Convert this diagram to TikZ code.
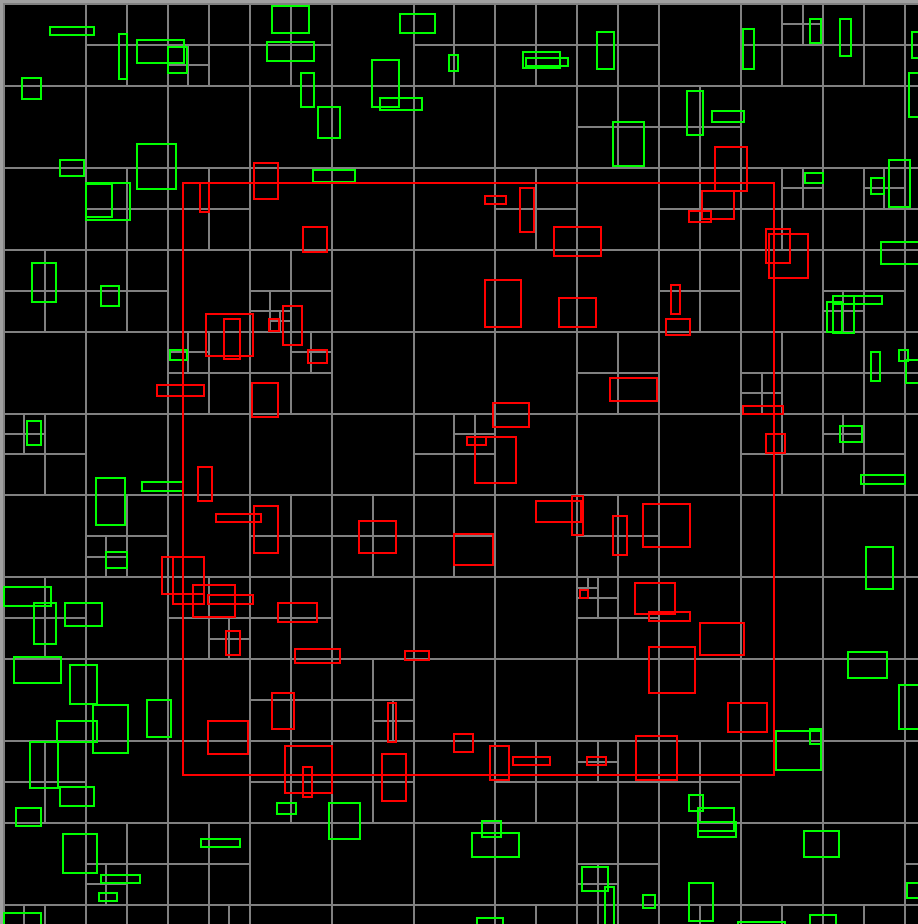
\documentclass[tikz,border=0pt]{standalone}
\usepackage{tikz}
\usetikzlibrary{calc}

\definecolor{gridgray}{RGB}{128,128,128}
\definecolor{edgegray}{RGB}{160,160,160}
\definecolor{hitred}{RGB}{255,0,0}
\definecolor{missgreen}{RGB}{0,255,0}

\begin{document}
\begin{tikzpicture}[x=1pt, y=-1pt,
    gridline/.style={draw=gridgray, line width=2pt},
    missbox/.style={draw=missgreen, line width=2.2pt},
    hitbox/.style={draw=hitred, line width=2.2pt}]

        % Canvas
        \useasboundingbox (0,0) rectangle (918,924);
        \clip (0,0) rectangle (918,924);
        \fill[edgegray] (0,0) rectangle (918,924);
        \fill[black] (3,3) rectangle (918,924);

        % Eighth of a quadtree cell
        \def\g{10.2375}

        % Cells of the coarse level
        \foreach \k in {0,...,11} {
          \draw[gridline] ({4+\k*8*\g},3) -- ({4+\k*8*\g},924);
          \draw[gridline] (3,{4+\k*8*\g}) -- (918,{4+\k*8*\g});
        }

        % Split cells: centre and half size, in eighths
        \foreach \u/\v/\h in {12/4/4, 20/4/4, 18/6/2, 28/4/4, 44/4/4, 52/4/4, 60/4/4,
            76/4/4, 78/2/2, 84/4/4, 92/4/4,
            60/12/4, 68/12/4,
            12/20/4, 20/20/4, 52/20/4, 68/20/4, 76/20/4, 78/18/2, 84/20/4, 86/18/2, 92/20/4,
            4/28/4, 12/28/4, 28/28/4, 26/30/2, 27/31/1, 68/28/4, 84/28/4, 82/30/2,
            20/36/4, 18/34/2, 28/36/4, 30/34/2, 60/36/4, 76/36/4, 74/38/2, 84/36/4, 92/36/4,
            4/44/4, 2/42/2, 44/44/4, 46/42/2, 76/44/4, 84/44/4, 82/42/2,
            12/52/4, 10/54/2, 28/52/4, 36/52/4, 44/52/4, 60/52/4,
            4/60/4, 20/60/4, 22/62/2, 28/60/4, 60/60/4, 58/58/2, 57/57/1,
            28/68/4, 36/68/4, 38/70/2,
            4/76/4, 28/76/4, 36/76/4, 52/76/4, 60/76/4, 58/74/2, 68/76/4,
            12/84/4, 10/86/2, 20/84/4, 60/84/4, 58/86/2, 92/84/4,
            4/92/4, 2/90/2, 12/92/4, 20/92/4, 22/90/2, 52/92/4, 60/92/4, 58/90/2,
            68/92/4, 76/92/4, 84/92/4} {
          \draw[gridline] ({4+\u*\g},{4+(\v-\h)*\g}) -- ({4+\u*\g},{4+(\v+\h)*\g});
          \draw[gridline] ({4+(\u-\h)*\g},{4+\v*\g}) -- ({4+(\u+\h)*\g},{4+\v*\g});
        }

        % Boxes outside the query
        \foreach \xa/\ya/\xb/\yb in {50/27/94/35, 119/34/127/79, 137/40/184/63, 168/47/187/73,
            272/6/309/33, 267/42/314/61, 301/73/314/107, 22/78/41/99, 60/160/84/176,
            137/144/176/189, 86/183/130/220, 86/184/112/217, 32/263/56/302, 101/286/119/306,
            400/14/435/33, 372/60/399/107, 380/98/422/110, 318/107/340/138, 449/55/458/71,
            523/52/560/68, 526/58/568/66, 597/32/614/69, 313/170/355/182, 613/122/644/166,
            743/29/754/69, 810/19/821/43, 840/19/851/56, 912/32/925/58, 909/73/925/117,
            687/91/703/135, 712/111/744/122, 805/173/823/183, 871/178/884/194, 889/160/910/207,
            881/242/925/264, 833/296/882/304, 827/302/842/332, 833/296/854/333,
            170/350/187/360, 27/421/41/445, 96/478/125/525, 142/482/183/491, 106/552/127/568,
            4/587/51/606, 34/603/56/644, 65/603/102/626,
            871/352/880/381, 899/350/908/361, 906/360/925/383, 840/426/862/442,
            861/475/905/484, 866/547/893/589,
            14/657/61/683, 70/665/97/704, 93/705/128/753, 57/721/97/742, 30/742/58/788,
            60/787/94/806, 16/808/41/826, 63/834/97/873, 101/875/140/883, 99/893/117/901,
            4/913/41/930, 147/700/171/737, 201/839/240/847, 277/803/296/814,
            329/803/360/839, 482/821/501/837, 472/833/519/857, 582/867/608/891,
            605/887/614/930, 477/918/503/930,
            848/652/887/678, 899/685/925/729, 776/731/821/770, 810/729/821/744,
            689/795/703/811, 698/808/734/831, 698/822/736/837, 804/831/839/857,
            907/883/925/898, 643/895/655/908, 689/883/713/921, 810/915/836/930,
            738/922/785/930}
          \draw[missbox] (\xa,\ya) rectangle (\xb,\yb);

        % Query window
        \draw[hitbox] (183,183) rectangle (774,775);

        % Boxes hit by the query
        \foreach \xa/\ya/\xb/\yb in {254/163/278/199, 200/183/209/212, 303/227/327/252,
            485/196/506/204, 520/188/534/232, 554/227/601/256, 485/280/521/327,
            559/298/596/327, 715/147/747/191, 702/191/734/219, 689/211/711/222,
            766/229/790/263, 769/234/808/278, 671/285/680/314,
            206/314/253/356, 224/319/240/359, 269/319/279/331, 283/306/302/345,
            157/385/204/396, 252/383/278/417, 198/467/212/501, 216/514/261/522,
            254/506/278/553, 162/557/204/594, 173/557/204/604, 193/585/235/617,
            208/595/253/604, 278/603/317/622,
            308/350/327/363, 493/403/529/427, 467/437/486/445, 475/437/516/483,
            536/501/581/522, 572/496/583/535, 359/521/396/553, 454/534/493/565,
            580/590/588/598, 610/378/657/401, 613/516/627/555, 666/319/690/335,
            743/406/783/414, 766/434/785/453, 643/504/690/547, 635/583/675/614,
            649/612/690/621,
            226/631/240/655, 295/649/340/663, 272/693/294/729, 208/721/248/754,
            285/746/332/793, 303/767/312/797, 405/651/429/660, 388/703/396/742,
            382/754/406/801, 454/734/473/752, 490/746/509/780, 513/757/550/765,
            587/757/606/765, 700/623/744/655, 649/647/695/693, 728/703/767/732,
            636/736/677/780}
          \draw[hitbox] (\xa,\ya) rectangle (\xb,\yb);

      \end{tikzpicture}
\end{document}
